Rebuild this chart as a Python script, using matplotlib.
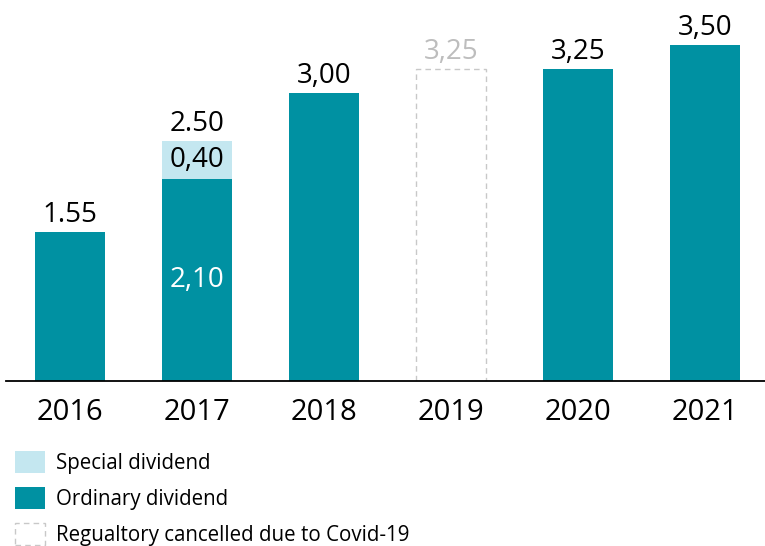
import matplotlib
matplotlib.use('Agg')
import matplotlib.pyplot as plt
from matplotlib.patches import Rectangle

years = ['2016', '2017', '2018', '2019', '2020', '2021']
ordinary = [1.55, 2.10, 3.00, 3.25, 3.25, 3.50]
special = [0, 0.40, 0, 0, 0, 0]
cancelled = [False, False, False, True, False, False]
total_labels = ['1.55', '2.50', '3,00', '3,25', '3,25', '3,50']
ordinary_inner = ['', '2,10', '', '', '', '']
special_inner = ['', '0,40', '', '', '', '']

teal = '#0091a2'
light = '#c4e7f0'
grey = '#c8c8c8'

plt.rcParams['font.family'] = ['Open Sans', 'DejaVu Sans']

fig = plt.figure(figsize=(7.65, 5.46), dpi=100)
ax = fig.add_axes([6 / 765, 1 - 381 / 546, 759 / 765, 381 / 546])
x = list(range(len(years)))
w = 0.55

for i in x:
    if cancelled[i]:
        ax.bar(i, ordinary[i], width=w, facecolor='none', edgecolor=grey,
               linestyle=(0, (4, 3)), linewidth=1)
        color = '#bdbdbd'
    else:
        ax.bar(i, ordinary[i], width=w, color=teal)
        if special[i]:
            ax.bar(i, special[i], bottom=ordinary[i], width=w, color=light)
        color = 'black'
    top = ordinary[i] + special[i]
    ax.annotate(total_labels[i], (i, top), xytext=(0, 2), textcoords='offset points',
                ha='center', va='bottom', fontsize=20, color=color)
    if ordinary_inner[i]:
        ax.text(i, ordinary[i] / 2, ordinary_inner[i], ha='center', va='center',
                fontsize=20, color='white')
    if special_inner[i]:
        ax.text(i, ordinary[i] + special[i] / 2, special_inner[i], ha='center',
                va='center', fontsize=20, color='black')

ax.set_xlim(-64 / 127, 695 / 127)
ax.set_ylim(0, 381 / 96)
ax.set_xticks(x)
ax.set_xticklabels(years, fontsize=21)
ax.tick_params(axis='x', length=0, pad=12)
ax.set_yticks([])
for s in ['top', 'right', 'left']:
    ax.spines[s].set_visible(False)
ax.spines['bottom'].set_linewidth(1.3)

# legend drawn by hand below the axis
legend = [('Special dividend', light, None), ('Ordinary dividend', teal, None),
          ('Regualtory cancelled due to Covid-19', 'none', grey)]
for k, (txt, fc, ec) in enumerate(legend):
    yc = 462 + k * 36
    fig.patches.append(Rectangle((15 / 765, 1 - (yc + 11) / 546), 30 / 765, 22 / 546,
                                 transform=fig.transFigure, facecolor=fc,
                                 edgecolor=ec if ec else 'none',
                                 linestyle=(0, (4, 3)), linewidth=1))
    fig.text(56 / 765, 1 - (yc + 2) / 546, txt, va='center', ha='left', fontsize=14.8)

fig.savefig('out.png', dpi=100)
